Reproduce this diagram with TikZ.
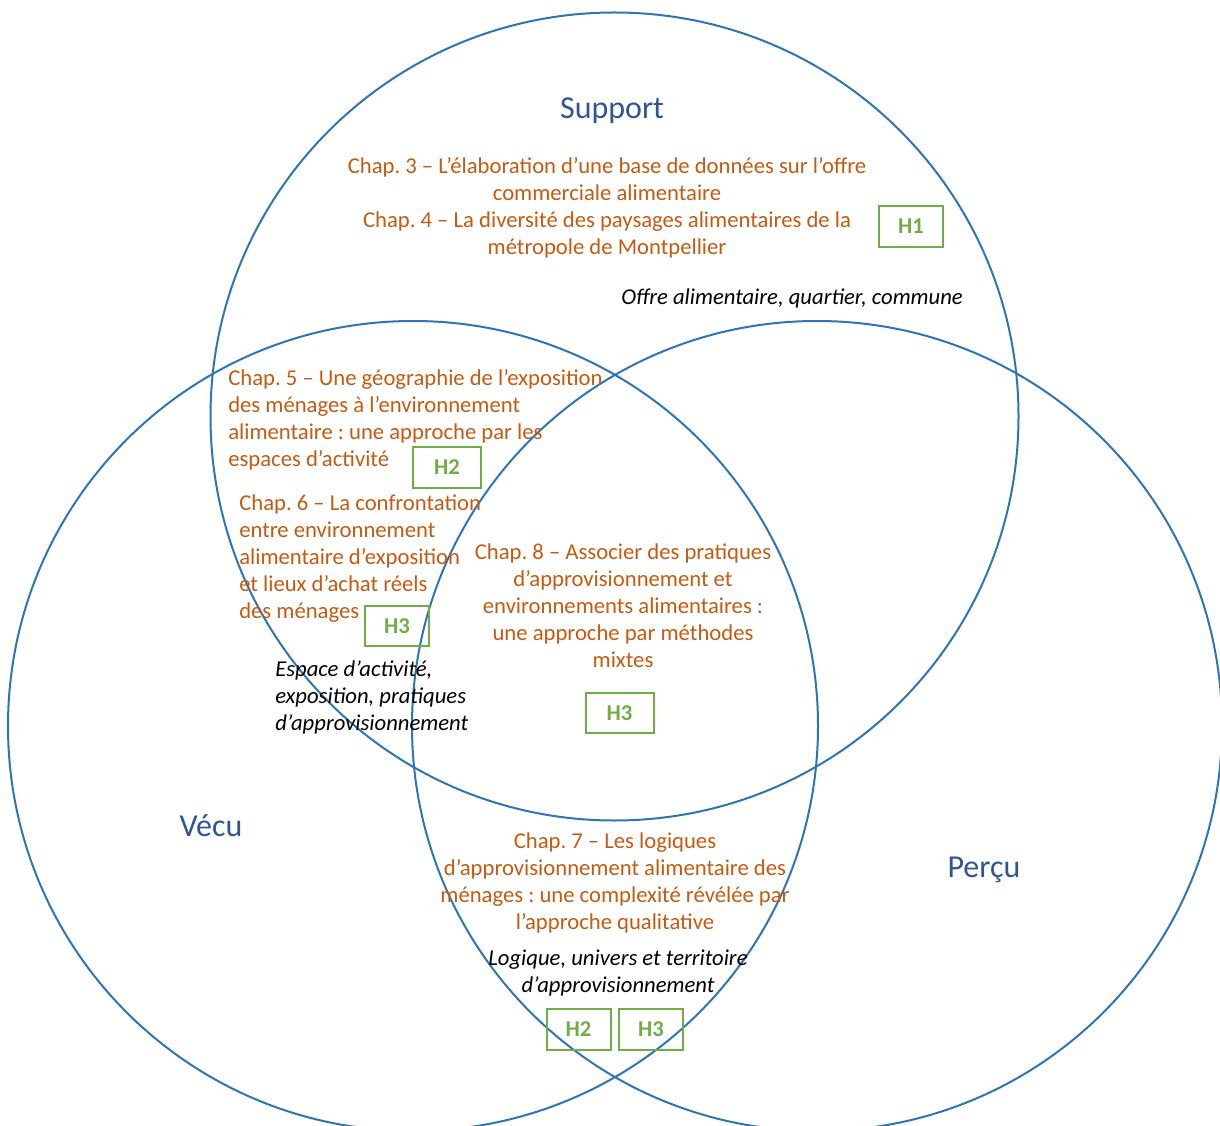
\documentclass[tikz,border=0pt]{standalone}
\usepackage{fontspec}
\setmainfont{Carlito}
\frenchspacing

\definecolor{circleblue}{RGB}{46,117,182}
\definecolor{titleblue}{RGB}{47,85,151}
\definecolor{chaporange}{RGB}{197,90,17}
\definecolor{hypgreen}{RGB}{112,173,71}

\tikzset{
	venn/.style={draw=circleblue, line width=1.5pt},
	sphere/.style={text=titleblue, font=\fontsize{24}{28}\selectfont, inner sep=0.75pt},
	chap/.style={text=chaporange, font=\fontsize{17}{20.25}\selectfont, inner sep=0.75pt},
	theme/.style={text=black, font=\fontsize{17}{20.25}\selectfont\itshape, inner sep=0.75pt},
	hyp/.style={draw=hypgreen, line width=1.5pt, text=hypgreen, font=\fontsize{17}{18}\selectfont\bfseries, minimum width=48pt, minimum height=30.5pt, inner sep=0pt}
}

\begin{document}
\begin{tikzpicture}[x=0.75pt,y=0.75pt,yscale=-1,xscale=1]
	\useasboundingbox (0,0) rectangle (1220,1126);

	% Circles
	\draw [venn] (614.5,416.5) circle [radius=404];
	\draw [venn] (413,726) circle [radius=405];
	\draw [venn] (817,726) circle [radius=405];

	% Sphere titles
	\node [sphere] (support) at (612,111) {Support};
	\node [sphere] (vecu) at (211,826) {Vécu};
	\node [sphere] (percu) at (984,870) {Perçu};

	% Text Node
	\node [chap, align=center] (chap34) at (607,208) {Chap. 3 – L’élaboration d’une base de données sur l’offre\\commerciale alimentaire\\Chap. 4 – La diversité des paysages alimentaires de la\\métropole de Montpellier};
	% Text Node
	\node [theme] (themesupport) at (792,298) {Offre alimentaire, quartier, commune};
	% Text Node
	\node [chap, align=left, anchor=west] (chap5) at (227,420) {Chap. 5 – Une géographie de l’exposition\\des ménages à l’environnement\\alimentaire : une approche par les\\espaces d’activité};
	% Text Node
	\node [chap, align=left, anchor=west] (chap6) at (238,559) {Chap. 6 – La confrontation\\entre environnement\\alimentaire d’exposition\\et lieux d’achat réels\\des ménages};
	% Text Node
	\node [theme, align=left, anchor=west] (themevecu) at (274,697) {Espace d’activité,\\exposition, pratiques\\d’approvisionnement};
	% Text Node
	\node [chap, align=center] (chap8) at (623,606) {Chap. 8 – Associer des pratiques\\d’approvisionnement et\\environnements alimentaires :\\une approche par méthodes\\mixtes};
	% Text Node
	\node [chap, align=center] (chap7) at (615,883) {Chap. 7 – Les logiques\\d’approvisionnement alimentaire des\\ménages : une complexité révélée par\\l’approche qualitative};
	% Text Node
	\node [theme, align=center] (themepercu) at (618,973) {Logique, univers et territoire\\d’approvisionnement};

	% Hypotheses
	\node [hyp] (hone) at (911,226.5) {H1};
	\node [hyp, minimum width=51pt] (htwoa) at (447,467.5) {H2};
	\node [hyp] (hthreea) at (397,626) {H3};
	\node [hyp, minimum width=51pt] (hthreeb) at (619.5,713) {H3};
	\node [hyp] (htwob) at (578.5,1029.5) {H2};
	\node [hyp] (hthreec) at (651,1029.5) {H3};

\end{tikzpicture}
\end{document}
